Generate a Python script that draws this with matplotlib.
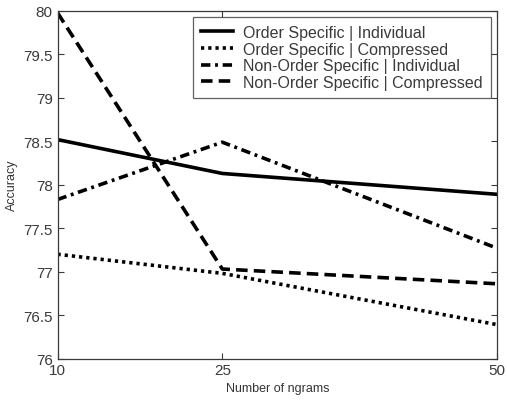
import matplotlib
matplotlib.use("Agg")
import matplotlib.pyplot as plt

plt.rcParams['font.family'] = ['Liberation Sans', 'DejaVu Sans']

x_vals = [10, 25, 50]
os_ind = [78.52, 78.13, 77.89]
os_comp = [77.20, 76.98, 76.39]
nos_ind = [77.83, 78.49, 77.27]
nos_comp = [79.98, 77.03, 76.86]
labels = ["Order Specific | Individual", "Order Specific | Compressed",
          "Non-Order Specific | Individual", "Non-Order Specific | Compressed"]
x_ticks = [10, 25, 50]
y_ticks = [76, 76.5, 77, 77.5, 78, 78.5, 79, 79.5, 80]

fig = plt.figure(figsize=(5.07, 4.02), dpi=100)
ax = fig.add_axes([57.5/507, 1-359.5/402, (497-57.5)/507, (359.5-12)/402])

lw = 2.6
ax.plot(x_vals, os_ind, color='black', lw=lw, linestyle='-', label=labels[0])
ax.plot(x_vals, os_comp, color='black', lw=lw, linestyle=(0, (0.9, 1.1)), label=labels[1])
ax.plot(x_vals, nos_ind, color='black', lw=lw, linestyle=(0, (2.6, 1.3, 0.8, 1.3)), label=labels[2])
ax.plot(x_vals, nos_comp, color='black', lw=lw, linestyle=(0, (3.2, 1.7)), label=labels[3])

ax.set_xlim(10, 50)
ax.set_ylim(76, 80)
ax.set_xticks(x_ticks)
ax.set_yticks(y_ticks)
ax.set_yticklabels(['76', '76.5', '77', '77.5', '78', '78.5', '79', '79.5', '80'])
ax.tick_params(direction='in', length=4, width=0.8, top=True, right=True,
               labelsize=11, colors='#3a3a3a', labelcolor='#3a3a3a', pad=3.5)
for s in ax.spines.values():
    s.set_color('#3a3a3a')
    s.set_linewidth(0.9)

ax.set_xlabel('Number of ngrams', fontsize=9, color='#333333', labelpad=3)
ax.set_ylabel('Accuracy', fontsize=9, color='#333333', labelpad=4)

leg = ax.legend(loc='upper right', bbox_to_anchor=(491/507, 1-18/402),
                bbox_transform=fig.transFigure, fontsize=11.5, frameon=True,
                fancybox=False, handlelength=2.0, handletextpad=0.65,
                labelspacing=0.1, borderpad=0.5, borderaxespad=0)
leg.get_frame().set_edgecolor('#3a3a3a')
leg.get_frame().set_linewidth(0.9)
for t in leg.get_texts():
    t.set_color('#3a3a3a')

fig.savefig('out.png', dpi=100)
